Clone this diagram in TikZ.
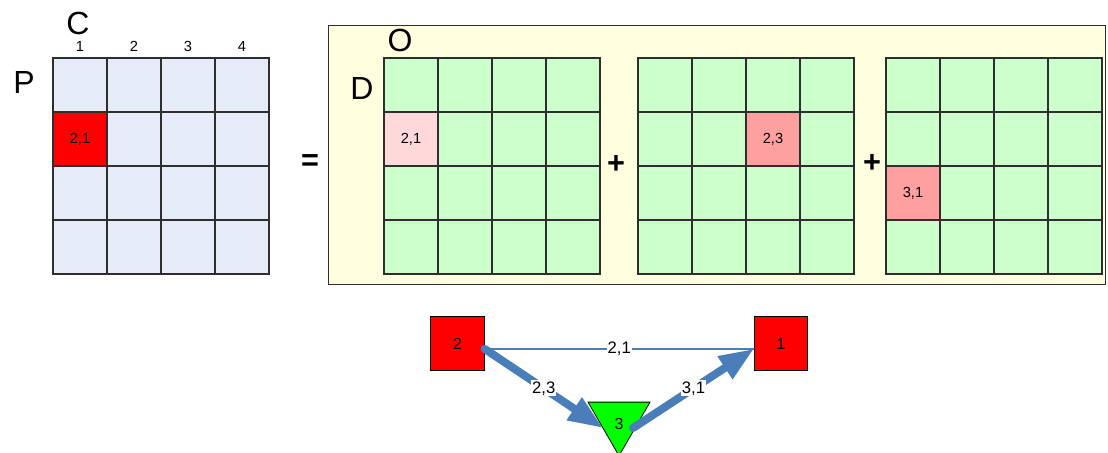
\documentclass[tikz,border=0pt]{standalone}
\usepackage{fontspec}
\setmainfont{Liberation Sans}
\usetikzlibrary{arrows.meta,shapes.geometric,calc}

\definecolor{gridblue}{HTML}{E6ECF7}
\definecolor{gridgreen}{HTML}{CCFFCC}
\definecolor{paleyellow}{HTML}{FFFFE0}
\definecolor{palepink}{HTML}{FFD9D9}
\definecolor{salmon}{HTML}{FFA0A0}
\definecolor{edgeblue}{HTML}{4A7EBB}
\definecolor{gridline}{HTML}{2E2E2E}

\tikzset{
  cell/.style={draw=gridline, line width=0.8pt, minimum size=40.5pt, inner sep=0pt,
               font=\fontsize{11}{13}\selectfont},
  biglabel/.style={font=\fontsize{24}{28}\selectfont, inner sep=0pt},
  collabel/.style={font=\fontsize{11}{13}\selectfont, inner sep=0pt},
  opsign/.style={font=\fontsize{23}{27}\selectfont\bfseries, inner sep=0pt},
  vertex/.style={draw=black, line width=0.6pt, fill=red, minimum size=40pt, inner sep=0pt,
                 font=\fontsize{12}{14}\selectfont},
  tri/.style={regular polygon, regular polygon sides=3, shape border rotate=180,
              draw=black, line width=0.6pt, fill=green, minimum size=53.7pt, inner sep=0pt},
  thinedge/.style={draw=edgeblue, line width=1.2pt, line cap=round},
  thickedge/.style={draw=edgeblue, line width=6pt, line cap=round,
                    -{Triangle[length=26pt,width=19pt]}},
  elabel/.style={fill=white, inner sep=0.8pt, font=\fontsize{12.5}{14}\selectfont}
}

\begin{document}
\begin{tikzpicture}[x=0.75pt,y=-0.75pt]
\useasboundingbox (0,0) rectangle (1108,453);

% background panel holding the three decomposed matrices
\node[draw=gridline, line width=0.6pt, fill=paleyellow, minimum width=582.75pt,
      minimum height=194.25pt, inner sep=0pt, anchor=north west] (panel) at (328,25) {};

% left matrix
\foreach \r in {1,...,4}{
  \foreach \c in {1,...,4}{
    \node[cell, fill=gridblue] (L-\r-\c) at ({53+27+54*(\c-1)},{58+27+54*(\r-1)}) {};
  }
}
\node[cell, fill=red] (L-2-1) at (80,139) {2,1};
\foreach \c in {1,...,4}{
  \node[collabel, anchor=base] (col\c) at ({80+54*(\c-1)},52) {\c};
}
\node[biglabel, anchor=base] (C) at (78,35) {C};
\node[biglabel] (P) at (24,82) {P};

\node[opsign] (eq) at (310,163) {=};

% three green matrices
\foreach \g/\x in {A/384,B/638,E/886}{
  \foreach \r in {1,...,4}{
    \foreach \c in {1,...,4}{
      \node[cell, fill=gridgreen] (\g-\r-\c) at ({\x+27+54*(\c-1)},{58+27+54*(\r-1)}) {};
    }
  }
}
\node[cell, fill=palepink] (A-2-1) at (411,139) {2,1};
\node[cell, fill=salmon] (B-2-3) at (773,139) {2,3};
\node[cell, fill=salmon] (E-3-1) at (913,193) {3,1};

\node[biglabel] (O) at (400,40) {O};
\node[biglabel] (D) at (362,88) {D};
\node[opsign] (plus1) at (616,165) {+};
\node[opsign] (plus2) at (872,164) {+};

% graph
\node[vertex] (n2) at (457.5,343.5) {2};
\node[vertex] (n1) at (781,343.5) {1};
\node[tri] (n3) at (619,420) {};
\node[font=\fontsize{12}{14}\selectfont, inner sep=0pt] (n3lab) at (619,424) {3};

\coordinate (n3in) at ($(n3.center)+(-12pt,-6pt)$);
\coordinate (n3out) at ($(n3.center)+(10.5pt,-6pt)$);

\draw[thinedge] ([yshift=-4pt]n2.east) -- node[elabel] (l21) {2,1} ([yshift=-4pt]n1.west);
\draw[thickedge] ([yshift=-4pt]n2.east) -- node[elabel] (l23) {2,3} (n3in);
\draw[thickedge] (n3out) -- node[elabel] (l31) {3,1} ([yshift=-4pt]n1.west);
\end{tikzpicture}
\end{document}
